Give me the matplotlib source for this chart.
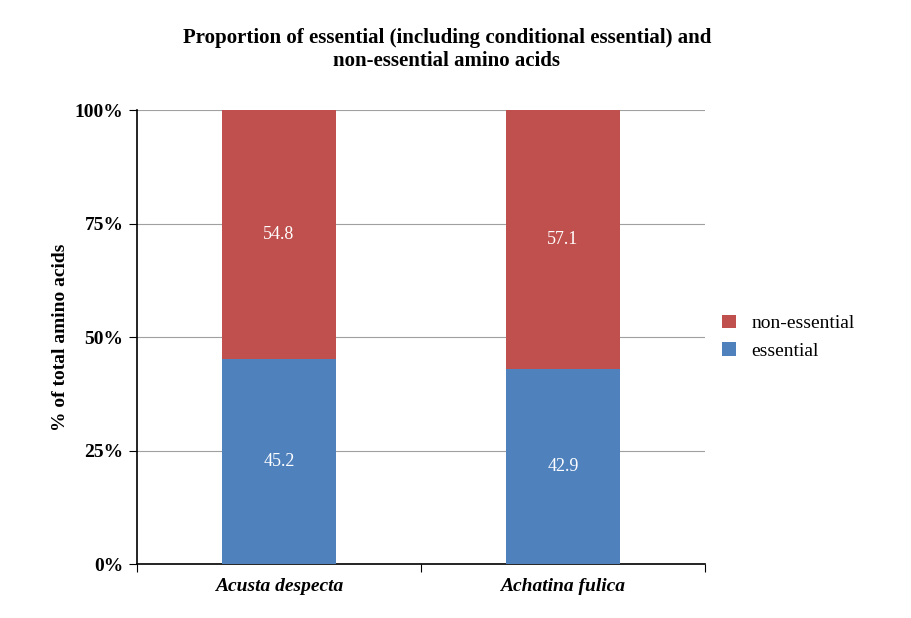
import matplotlib.pyplot as plt
from matplotlib.ticker import FixedLocator

plt.rcParams['font.family'] = ['Liberation Serif', 'DejaVu Serif']

species = ['Acusta despecta', 'Achatina fulica']
essential = [45.2, 42.9]
non_essential = [54.8, 57.1]
yticks = [0, 25, 50, 75, 100]

fig = plt.figure(figsize=(9.12, 6.18), dpi=100)
ax = fig.add_axes([0.150, 0.087, 0.623, 0.735])

x = range(len(species))
b1 = ax.bar(x, essential, width=0.4, color='#4F81BD', label='essential', zorder=3)
b2 = ax.bar(x, non_essential, bottom=essential, width=0.4, color='#C0504D',
            label='non-essential', zorder=3)

for i in x:
    ax.text(i, essential[i] / 2, f'{essential[i]:.1f}', ha='center', va='center',
            color='white', fontsize=13)
    ax.text(i, essential[i] + non_essential[i] / 2, f'{non_essential[i]:.1f}',
            ha='center', va='center', color='white', fontsize=13)

ax.set_xlim(-0.5, 1.5)
ax.set_ylim(0, 100)
ax.set_yticks(yticks)
ax.set_yticklabels([f'{v}%' for v in yticks], fontsize=14, fontweight='bold')
ax.yaxis.grid(True, color='#a0a0a0', linewidth=0.8, zorder=0)

ax.xaxis.set_major_locator(FixedLocator([-0.5, 0.5, 1.5]))
ax.xaxis.set_major_formatter(plt.NullFormatter())
ax.xaxis.set_minor_locator(FixedLocator([0, 1]))
ax.set_xticklabels(species, minor=True, fontsize=14, fontweight='bold', style='italic')
ax.tick_params(axis='x', which='minor', length=0, pad=10)
ax.tick_params(axis='x', which='major', length=6, direction='out')
ax.tick_params(axis='y', length=6, direction='out')

for s in ['top', 'right']:
    ax.spines[s].set_visible(False)
ax.spines['left'].set_linewidth(1.2)
ax.spines['bottom'].set_linewidth(1.2)

ax.set_ylabel('% of total amino acids', fontsize=14, fontweight='bold')
fig.suptitle('Proportion of essential (including conditional essential) and\nnon-essential amino acids',
             x=0.49, y=0.955, fontsize=15, fontweight='bold')

ax.legend(handles=[b2, b1], loc='center left', bbox_to_anchor=(1.0, 0.5),
          frameon=False, fontsize=14, handlelength=0.7, handleheight=0.7)

fig.savefig('out.png', dpi=100)
